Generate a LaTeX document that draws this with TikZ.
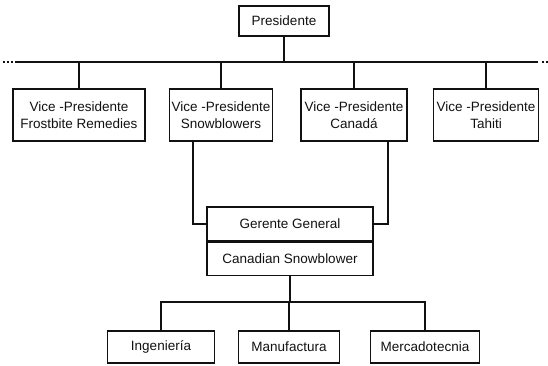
\documentclass[tikz,border=0pt]{standalone}
\usepackage{fontspec}
\setmainfont{Liberation Sans}
\usepackage{tikz}
\usetikzlibrary{positioning,calc}
\definecolor{cInk}{HTML}{111111}
\newcommand{\orgfont}{\fontsize{13.5}{17}\selectfont}
\tikzset{
  blk/.style={draw=cInk, line width=1.4pt, align=center, inner sep=1pt,
              font=\orgfont, text=cInk},
  vp/.style={blk, minimum height=52pt},
  dept/.style={blk, minimum height=32pt},
  gm/.style={blk, minimum width=166pt},
  ln/.style={draw=cInk, line width=1.9pt},
  lnd/.style={draw=cInk, line width=1.9pt, dash pattern=on 1.5pt off 2.5pt},
}
\begin{document}
\begin{tikzpicture}[x=1pt, y=-1pt]
  \useasboundingbox (0,0) rectangle (548,365);
  % top
  \node[blk, minimum width=90pt, minimum height=30pt] (pres) at (284,21) {Presidente};
  \coordinate (busL) at (17,62);
  \coordinate (busR) at (538,62);
  \draw[ln] (busL) -- (busR);
  \draw[lnd] (3,62) -- (busL);
  \draw[lnd] (busR) ++(4,0) -- (548,62);
  \draw[ln] (pres.south) -- (pres.south |- busL);
  % vice presidents
  \node[vp, minimum width=132pt] (v1) at (79,115) {Vice -Presidente\\Frostbite Remedies};
  \node[vp, minimum width=103pt] (v2) at (221,115) {Vice -Presidente\\Snowblowers};
  \node[vp, minimum width=106pt] (v3) at (354,115) {Vice -Presidente\\Canadá};
  \node[vp, minimum width=105pt] (v4) at (486,115) {Vice -Presidente\\Tahiti};
  \foreach \v in {v1,v2,v3,v4}
    \draw[ln] (\v.north) -- (\v.north |- busL);
  % general manager
  \node[gm, minimum height=34pt] (gg) at (290,224) {Gerente General};
  \node[gm, minimum height=33pt, below=0pt of gg] (cs) {Canadian Snowblower};
  \draw[ln] ([xshift=24pt]v2.south west) |- (gg.west);
  \draw[ln] ([xshift=-20pt]v3.south east) |- (gg.east);
  % departments
  \node[dept, minimum width=107pt] (ing) at (161,347) {Ingeniería};
  \node[dept, minimum width=101pt] (man) at (289,347) {Manufactura};
  \node[dept, minimum width=109pt] (mer) at (425,347) {Mercadotecnia};
  \coordinate (bus2) at (290,302);
  \draw[ln] (cs.south) -- (cs.south |- bus2);
  \draw[ln] (ing.north) -- (ing.north |- bus2) -- (mer.north |- bus2) -- (mer.north);
  \draw[ln] (man.north) -- (man.north |- bus2);
\end{tikzpicture}
\end{document}
